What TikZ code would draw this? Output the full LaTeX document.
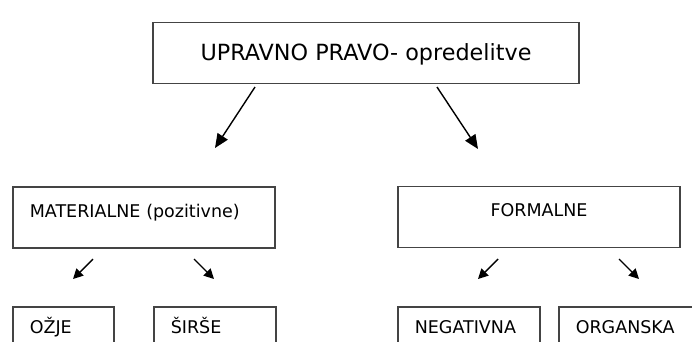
\documentclass[tikz,border=0pt]{standalone}
\usepackage{fontspec}
\setmainfont{DejaVu Sans}
\usetikzlibrary{arrows.meta, positioning}
\definecolor{boxline}{HTML}{444444}

\begin{document}
\begin{tikzpicture}[x=1pt, y=-1pt,
    box/.style={draw=boxline, line width=1.6pt, inner ysep=0pt, font=\fontsize{17.5}{20}\selectfont},
    leftbox/.style={box, align=left, inner xsep=17pt},
    bigarrow/.style={line width=1.4pt, -{Triangle[length=14pt, width=12pt]}},
    smallarrow/.style={line width=1.4pt, -{Triangle[length=10pt, width=10pt]}}]
\useasboundingbox (0,0) rectangle (692,341);
\clip (0,0) rectangle (692,341);
\fill[white] (0,0) rectangle (692,341);

% Top box
\node[box, minimum width=426pt, text height=38pt, text depth=23pt,
      font=\fontsize{22.3}{26}\selectfont] (upravno) at (366,53) {UPRAVNO PRAVO- opredelitve};

% Second level
\node[leftbox, text width=228pt, text height=30pt, text depth=31pt,
      anchor=base west] (materialne) at (12,217) {MATERIALNE (pozitivne)};
\node[box, minimum width=282pt, text height=30pt, text depth=31pt] (formalne) at (539,217) {FORMALNE};

% Third level (cut off at the bottom)
\node[leftbox, text width=67pt, text height=26pt, text depth=40pt,
      anchor=base west] (ozje) at (12,333) {OŽJE};
\node[leftbox, text width=88pt, text height=26pt, text depth=40pt,
      anchor=base west] (sirse) at (153,333) {ŠIRŠE};
\node[leftbox, text width=108pt, text height=26pt, text depth=40pt,
      anchor=base west] (negativna) at (397,333) {NEGATIVNA};
\node[leftbox, text width=150pt, text height=26pt, text depth=40pt,
      anchor=base west] (organska) at (558,333) {ORGANSKA};

% Arrows from the top box
\coordinate (upL) at (255,87);  \coordinate (toMat) at (215,148);
\coordinate (upR) at (437,87);  \coordinate (toFor) at (478,149);
\draw[bigarrow] (upL) -- (toMat);
\draw[bigarrow] (upR) -- (toFor);

% Arrows from the second level
\coordinate (matL) at (93,259);  \coordinate (toOzje) at (73,279);
\coordinate (matR) at (194,259); \coordinate (toSirse) at (214,279);
\coordinate (forL) at (498,259); \coordinate (toNeg) at (478,279);
\coordinate (forR) at (619,259); \coordinate (toOrg) at (639,279);
\draw[smallarrow] (matL) -- (toOzje);
\draw[smallarrow] (matR) -- (toSirse);
\draw[smallarrow] (forL) -- (toNeg);
\draw[smallarrow] (forR) -- (toOrg);

\end{tikzpicture}
\end{document}
